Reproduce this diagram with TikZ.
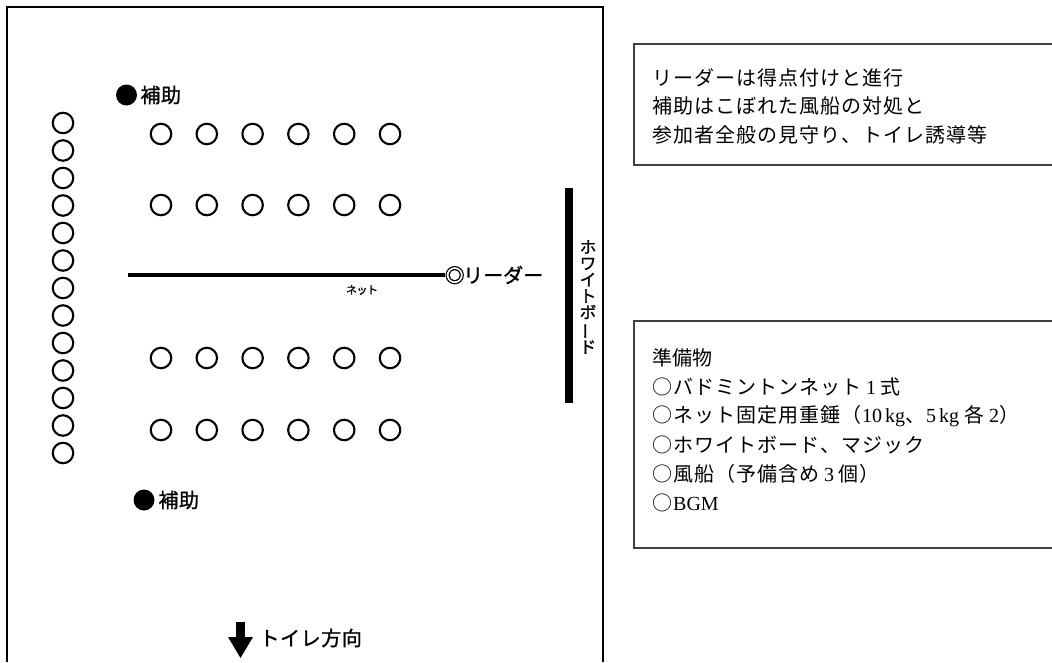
\documentclass[tikz,border=0pt]{standalone}
\usepackage{fontspec}
\setmainfont{Noto Sans CJK JP}
\newfontfamily\goth{Noto Sans CJK JP}[AutoFakeBold=1.2]
\newfontfamily\latf{Liberation Serif}
\newcommand\lat[1]{{\latf\fontsize{20}{20}\selectfont #1}}
\makeatletter
\newcommand\fwc[2]{\@tfor\fwtok:=#2\do{\makebox[#1]{\fwtok}}}
\makeatother
\begin{document}
\begin{tikzpicture}[x=1pt,y=-1pt,
  seat/.style={circle,draw,line width=2.1pt,minimum size=20.5pt,inner sep=0pt},
  aiddot/.style={circle,fill,minimum size=21pt,inner sep=0pt},
  frameline/.style={line width=2.5pt},
  boxline/.style={draw=black!75,line width=1.6pt},
  lbl/.style={font=\goth\bfseries\fontsize{20}{20}\selectfont,inner sep=0pt,anchor=west},
  note/.style={font=\fontsize{20}{20}\selectfont,inner sep=0pt,anchor=west}]
\useasboundingbox (0,0) rectangle (1052,662);
% main frame (open at the bottom)
\draw[frameline] (7,662) -- (7,7) -- (603,7) -- (603,662);
% text boxes (open at the right)
\draw[boxline] (1052,44) -- (634,44) -- (634,165) -- (1052,165);
\draw[boxline] (1052,321) -- (634,321) -- (634,548) -- (1052,548);
% left column of seats
\foreach \i in {0,...,12} {
  \node[seat] (L\i) at (63,{123+27.5*\i}) {};
}
% grid of seats
\foreach \r/\yy in {1/134,2/205,3/358,4/430} {
  \foreach \c in {0,...,5} {
    \node[seat] (G\r\c) at ({161+45.8*\c},\yy) {};
  }
}
% helpers
\node[aiddot] (dot1) at (126.5,95) {};
\node[lbl] (aid1) at (140,95) {\fwc{20.5pt}{補助}};
\node[aiddot] (dot2) at (144,500) {};
\node[lbl] (aid2) at (158,500) {\fwc{20.5pt}{補助}};
% net
\coordinate (netL) at (128,275);
\coordinate (netR) at (445,275);
\draw[line width=4.5pt] (netL) -- (netR);
\node[font=\goth\bfseries\fontsize{11}{11}\selectfont,inner sep=0pt] (netlbl) at (362,290) {\fwc{10.5pt}{ネット}};
\node[lbl] (leader) at (446,275) {\fwc{17pt}{◎}\fwc{20pt}{リーダー}};
% whiteboard
\coordinate (wbT) at (568.5,188);
\coordinate (wbB) at (568.5,403);
\draw[line width=8pt] (wbT) -- (wbB);
\node[font=\goth\bfseries\fontsize{16.5}{16.3}\selectfont,align=center,inner sep=0pt] (wblbl) at (588,297)
  {ホ\\ワ\\イ\\ト\\ボ\\\rotatebox[origin=c]{90}{ー}\\ド};
% toilet direction arrow
\fill (236,622) rectangle (245,639);
\fill (228,637) -- (253,637) -- (240.5,658) -- cycle;
\node[lbl] (toilet) at (259,638) {\fwc{20.6pt}{トイレ方向}};
% notes
\node[note] (n1) at (652,78) {\fwc{21pt}{リーダーは得点付けと進行}};
\node[note] (n2) at (652,106) {\fwc{21pt}{補助はこぼれた風船の対処と}};
\node[note] (n3) at (652,135) {\fwc{21pt}{参加者全般の見守り、トイレ誘導等}};
\node[note] (p0) at (652,358) {\fwc{20pt}{準備物}};
\node[note] (p1) at (652,387) {\fwc{21pt}{○バドミントンネット}\hspace{4pt}\lat{1}\hspace{4pt}\fwc{21pt}{式}};
\node[note] (p2) at (652,416) {\fwc{21pt}{○ネット固定用重錘（}\lat{10\hspace{3pt}kg}\fwc{21pt}{、}\lat{5\hspace{3pt}kg}\hspace{5pt}\fwc{21pt}{各}\hspace{4pt}\lat{2}\fwc{21pt}{）}};
\node[note] (p3) at (652,445) {\fwc{21pt}{○ホワイトボード、マジック}};
\node[note] (p4) at (652,474) {\fwc{21pt}{○風船（予備含め}\hspace{4pt}\lat{3}\hspace{4pt}\fwc{21pt}{個）}};
\node[note] (p5) at (652,503) {\fwc{21pt}{○}\lat{BGM}};
\end{tikzpicture}
\end{document}
